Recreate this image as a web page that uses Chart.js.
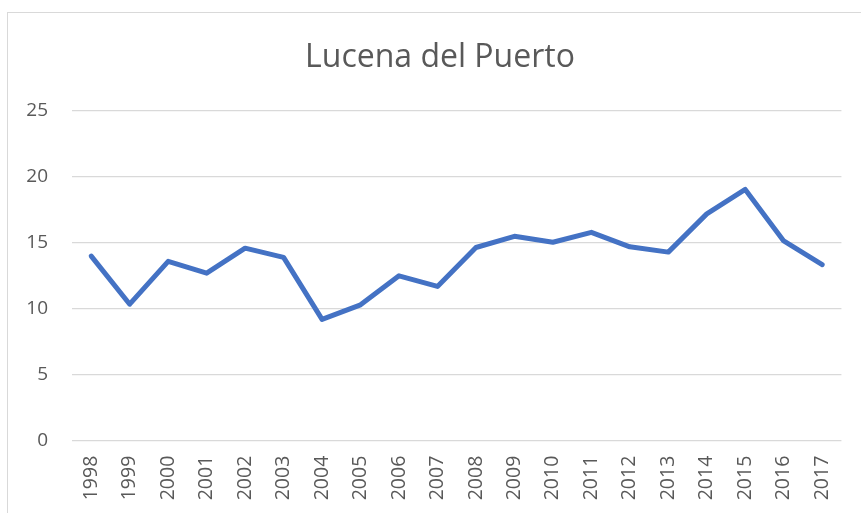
<!DOCTYPE html>
<html>
<head>
<meta charset="utf-8">
<script src="https://cdn.jsdelivr.net/npm/chart.js@4"></script>
<style>
  html, body { margin: 0; padding: 0; background: #fff; overflow: hidden; }
  #wrap { position: relative; width: 861px; height: 513px; }
  #frame { position: absolute; left: 7px; top: 12px; width: 900px; height: 600px; border: 1px solid #d9d9d9; box-sizing: border-box; }
  canvas { position: absolute; left: 0; top: 0; }
</style>
</head>
<body>
<div id="wrap">
  <div id="frame"></div>
  <canvas id="c" width="861" height="513"></canvas>
</div>
<script>
const chartTitle = "Lucena del Puerto";
const years = ["1998","1999","2000","2001","2002","2003","2004","2005","2006","2007","2008","2009","2010","2011","2012","2013","2014","2015","2016","2017"];
const values = [14.0, 10.35, 13.6, 12.7, 14.6, 13.9, 9.2, 10.3, 12.5, 11.7, 14.65, 15.5, 15.05, 15.8, 14.7, 14.3, 17.2, 19.05, 15.15, 13.35];
const yTicks = [0, 5, 10, 15, 20, 25];

const textColor = "#595959";
const fontFamily = "'Open Sans', 'Liberation Sans', sans-serif";

// Title drawn centred on the chart frame (which starts at x=7 and runs past the window edge)
const titlePlugin = {
  id: "frameTitle",
  afterDraw(chart) {
    const ctx = chart.ctx;
    ctx.save();
    ctx.font = "normal 32px " + fontFamily;
    ctx.fillStyle = textColor;
    ctx.textAlign = "center";
    ctx.textBaseline = "alphabetic";
    ctx.fillText(chartTitle, 440, 67.3);
    ctx.restore();
  }
};

new Chart(document.getElementById("c"), {
  type: "line",
  data: {
    labels: years,
    datasets: [{
      data: values,
      borderColor: "#4472C4",
      borderWidth: 5,
      pointRadius: 0,
      pointHoverRadius: 0,
      tension: 0,
      fill: false,
      borderJoinStyle: "round",
      borderCapStyle: "round"
    }]
  },
  plugins: [titlePlugin],
  options: {
    responsive: false,
    animation: false,
    events: [],
    layout: { padding: { left: 0, right: 17, top: 111, bottom: 0 } },
    plugins: {
      legend: { display: false },
      tooltip: { enabled: false },
      title: { display: false }
    },
    scales: {
      x: {
        offset: true,
        grid: { display: false, drawTicks: false },
        border: { display: false },
        ticks: {
          color: textColor,
          font: { family: fontFamily, size: 19.5 },
          autoSkip: false,
          minRotation: 90,
          maxRotation: 90,
          padding: 15
        },
        afterFit: (s) => { s.height = 72.3; }
      },
      y: {
        min: 0,
        max: 25,
        afterBuildTicks: (s) => { s.ticks = yTicks.map(v => ({ value: v })); },
        grid: { color: "#d9d9d9", lineWidth: 1.3, drawTicks: false },
        border: { display: false },
        ticks: {
          color: textColor,
          font: { family: fontFamily, size: 19 },
          padding: 24
        },
        afterFit: (s) => { s.width = 72; }
      }
    }
  }
});
</script>
</body>
</html>
